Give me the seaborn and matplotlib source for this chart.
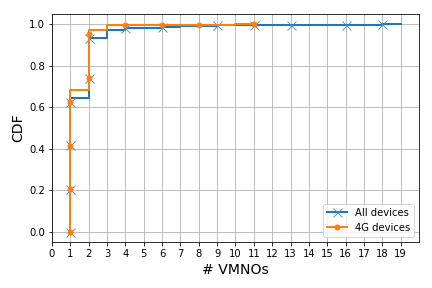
import matplotlib
matplotlib.use("Agg")
import matplotlib.pyplot as plt
import seaborn as sns
import numpy as np


# CDF of number of VMNOs per device
all_x = [1, 1, 1, 1, 1, 2, 2, 3, 4, 5, 6, 7, 8, 9, 10, 11, 12, 13, 14, 15, 16, 17, 18, 19]
all_cdf = [0.0, 0.207, 0.417, 0.628, 0.647, 0.741, 0.934, 0.971, 0.981, 0.985, 0.990, 0.992,
           0.994, 0.996, 0.997, 0.998, 0.998, 0.999, 0.999, 0.999, 0.9995, 0.9997, 0.9999, 1.0]
all_marks = [0, 1, 2, 3, 5, 6, 8, 10, 13, 15, 17, 20, 22]

g4_x = [1, 1, 1, 1, 1, 2, 2, 2, 3, 4, 5, 6, 7, 8, 9, 10, 11]
g4_cdf = [0.0, 0.207, 0.414, 0.628, 0.684, 0.741, 0.955, 0.972, 0.997, 0.998, 0.999,
          0.9993, 0.9995, 0.9997, 0.9998, 0.9999, 1.0]
g4_marks = [0, 1, 2, 3, 5, 6, 9, 11, 13, 16]

x_ticks = list(range(20))


def main():
    fig, ax = plt.subplots(figsize=(6, 4), dpi=72)

    sns.lineplot(x=all_x, y=all_cdf, ax=ax, estimator=None, sort=False,
                 drawstyle="steps-post", color="#1f77b4", linewidth=2,
                 marker="x", markersize=9, markeredgewidth=0.9, markeredgecolor="#3f8fc8",
                 markevery=all_marks, label="All devices")
    sns.lineplot(x=g4_x, y=g4_cdf, ax=ax, estimator=None, sort=False,
                 drawstyle="steps-post", color="#ff7f0e", linewidth=2,
                 marker="o", markersize=5, markeredgewidth=1, markeredgecolor="#ff7f0e",
                 markevery=g4_marks, label="4G devices")

    ax.set_xticks(x_ticks)
    ax.set_xlim(0, 20)
    ax.grid(True, color="#b0b0b0", linewidth=0.8)
    ax.set_axisbelow(True)

    ax.set_xlabel("# VMNOs", fontsize=14)
    ax.set_ylabel("CDF", fontsize=14)
    ax.legend(loc="lower right", fontsize=10)

    fig.subplots_adjust(left=0.120, right=0.970, top=0.951, bottom=0.160)
    fig.savefig("out.png")


if __name__ == "__main__":
    main()
